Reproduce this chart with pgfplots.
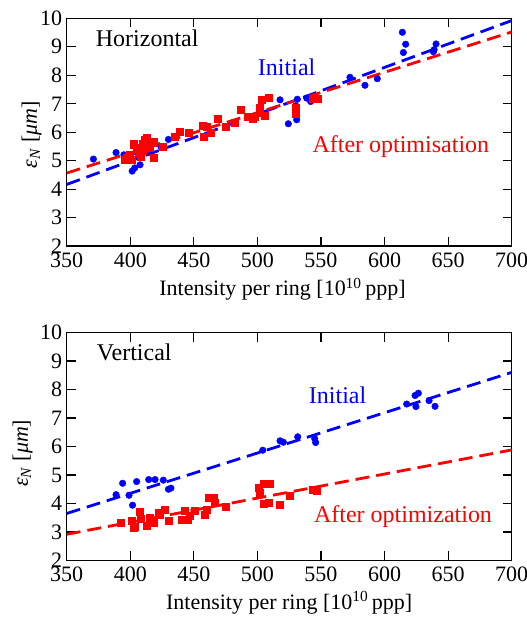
\documentclass[border=0pt]{standalone}
\usepackage{fontspec}
\setmainfont{Liberation Serif}
\usepackage{pgfplots}
\pgfplotsset{compat=1.18}

\pgfplotsset{
  emstyle/.style={
    scale only axis,
    width=445pt, height=228pt,
    xmin=350, xmax=700, ymin=2, ymax=10,
    xtick={350,400,...,700}, ytick={2,3,...,10},
    xtick pos=both, ytick pos=both,
    tick align=inside,
    major tick length=9pt,
    every tick/.style={black, line width=1.2pt},
    axis line style={line width=1.6pt},
    /pgf/number format/assume math mode=true,
    /pgf/number format/1000 sep={},
    xticklabel={\pgfmathprintnumber{\tick}},
    yticklabel={\pgfmathprintnumber{\tick}},
    tick label style={font=\fontsize{22}{24}\selectfont},
    label style={font=\fontsize{22}{24}\selectfont},
    xticklabel style={yshift=-3pt},
    yticklabel style={xshift=-1pt},
    xlabel={Intensity per ring [10\textsuperscript{10}\,ppp]},
    ylabel={\textit{ε}\textsubscript{\textit{N}} [\textit{μm}]},
    clip=true,
  },
  bluept/.style={only marks, mark=*, mark size=3.3pt, color=blue, mark options={draw=blue, fill=blue}},
  redpt/.style={only marks, mark=square*, mark size=3.5pt, color=red, mark options={draw=red, fill=red}},
  bluefit/.style={no marks, color=blue, line width=2.8pt, dash pattern=on 14pt off 7pt},
  redfit/.style={no marks, color=red, line width=2.8pt, dash pattern=on 14pt off 7pt},
}

\begin{document}
\begin{tikzpicture}[x=1pt,y=1pt]
\useasboundingbox (-66.7,18.3) rectangle (460.3,-603.7);

% ---------------- Horizontal ----------------
\begin{axis}[emstyle, at={(0pt,0pt)}, anchor=north west,
  xlabel style={at={(rel axis cs:0.485,0)}, anchor=center, yshift=-43pt},
  ylabel style={at={(rel axis cs:0,0.49)}, anchor=center, yshift=35pt},
]
\addplot[bluept] coordinates {
(371,5.06) (388.8,5.29) (395,5.21) (401.5,4.64) (403.5,4.75) (407.7,4.86)
(415,5.31) (424.2,5.48) (430,5.75) (405,5.30) (410,5.50)
(517.8,7.14) (524.3,6.30) (530.9,6.44) (530.1,6.93) (531.4,7.16) (538.8,7.20)
(541.9,7.08) (572.8,7.93) (584.6,7.65) (594.3,7.88) (614,9.51) (616.6,9.09)
(614.8,8.80) (638.4,8.83) (640.5,9.10) (639,8.90)
};
\addplot[redpt] coordinates {
(395.9,5.04) (397.2,5.10) (398.5,5.15) (399.8,5.21) (401,5.04) (402.4,5.60)
(403,5.56) (405,5.40) (406.3,5.27) (408,5.15) (409,5.45) (410,5.35) (410,5.60)
(411.6,5.74) (412.9,5.80) (413,5.74) (415,5.45) (418.1,5.64) (418.7,5.10)
(418.7,5.68) (425.2,5.50) (435,5.85) (438.6,6.03) (445.6,5.97) (457,6.24)
(458,5.85) (460,6.20) (463,6.00) (468.6,6.46) (475,6.18) (482.4,6.33)
(487.1,6.81) (492.4,6.55) (496.3,6.46) (498,6.55) (501.5,6.88) (502,6.70)
(503.4,7.16) (506,6.58) (508.6,7.22) (530,6.85) (530,6.67) (543.2,7.18) (547.4,7.18)
};
\addplot[bluefit] coordinates {(350,4.17) (700,9.92)};
\addplot[redfit] coordinates {(350,4.57) (700,9.52)};
\node[anchor=base west, font=\fontsize{24}{26}\selectfont] at (axis cs:370.2,9.0) {Horizontal};
\node[anchor=base, text=blue, font=\fontsize{24}{26}\selectfont] at (axis cs:523,8.01) {Initial};
\node[anchor=base, text=red, font=\fontsize{24}{26}\selectfont] at (axis cs:612.8,5.29) {After optimisation};
\end{axis}

% ---------------- Vertical ----------------
\begin{axis}[emstyle, at={(0pt,-314.2pt)}, anchor=north west,
  xlabel style={at={(rel axis cs:0.5,0)}, anchor=center, yshift=-42pt},
  ylabel style={at={(rel axis cs:0,0.47)}, anchor=center, yshift=44pt},
]
\addplot[bluept] coordinates {
(388.8,4.31) (394,4.71) (399,4.29) (401.8,3.94) (405,4.77) (414.5,4.84)
(419.5,4.84) (426,4.82) (430,4.50) (432,4.54) (504.2,5.87) (517.8,6.20)
(520.4,6.15) (531.7,6.34) (545.8,6.14) (545,6.28) (617.4,7.49) (624,7.79)
(626.6,7.87) (624.7,7.40) (635,7.61) (639.7,7.41)
};
\addplot[redpt] coordinates {
(392.5,3.32) (401.1,3.40) (402.4,3.15) (403.7,3.20) (407.7,3.70) (408.4,3.45)
(413,3.21) (415.5,3.50) (418.1,3.32) (422.3,3.68) (423.4,3.60) (427.3,3.80)
(430,3.41) (440.4,3.44) (443,3.74) (445.3,3.44) (447,3.56) (450.9,3.74)
(458.8,3.62) (460,3.80) (461.4,4.20) (465.3,4.20) (466.6,4.03) (475.2,3.89)
(500.7,4.56) (501.5,4.38) (504.6,4.68) (509.9,4.68) (504.6,4.00) (508.6,4.03)
(517.5,3.95) (525.3,4.26) (543.5,4.48) (546.6,4.44)
};
\addplot[bluefit] coordinates {(350,3.65) (700,8.60)};
\addplot[redfit] coordinates {(350,2.92) (700,5.88)};
\node[anchor=base west, font=\fontsize{24}{26}\selectfont] at (axis cs:371,9.03) {Vertical};
\node[anchor=base, text=blue, font=\fontsize{24}{26}\selectfont] at (axis cs:563.1,7.51) {Initial};
\node[anchor=base, text=red, font=\fontsize{24}{26}\selectfont] at (axis cs:614.5,3.33) {After optimization};
\end{axis}
\end{tikzpicture}
\end{document}
